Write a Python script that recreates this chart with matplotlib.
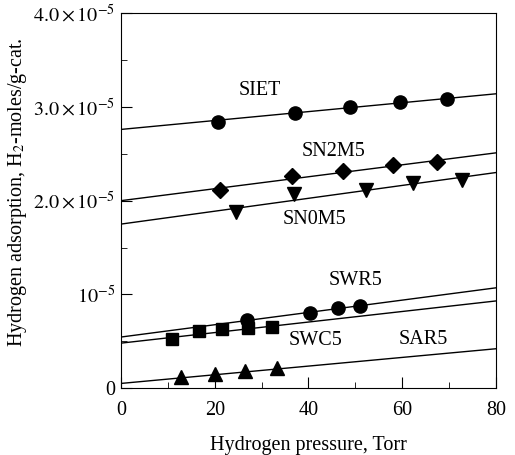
import matplotlib.pyplot as plt
from matplotlib.ticker import MultipleLocator, FixedLocator

plt.rcParams['font.family'] = ['Liberation Serif', 'DejaVu Serif']
plt.rcParams['mathtext.fontset'] = 'stix'

# data (x in Torr, y in 1e-5 H2-moles/g-cat)
siet_x = [20.7, 37.1, 48.9, 59.5, 69.5]
siet_y = [2.84, 2.94, 3.00, 3.05, 3.08]
sn2m5_x = [21.1, 36.5, 47.3, 58.0, 67.4]
sn2m5_y = [2.11, 2.26, 2.32, 2.38, 2.41]
sn0m5_x = [24.5, 37.0, 52.3, 62.3, 72.7]
sn0m5_y = [1.88, 2.07, 2.11, 2.19, 2.22]
swr5_x = [26.8, 40.3, 46.3, 51.0]
swr5_y = [0.73, 0.80, 0.85, 0.88]
swc5_x = [10.8, 16.6, 21.6, 27.2, 32.2]
swc5_y = [0.52, 0.61, 0.63, 0.64, 0.65]
sar5_x = [12.8, 20.1, 26.5, 33.2]
sar5_y = [0.12, 0.15, 0.18, 0.21]

# straight lines: value at 0 Torr and at 80 Torr
line_x = [0, 80]
siet_line = [2.76, 3.14]
sn2m5_line = [2.00, 2.51]
sn0m5_line = [1.75, 2.30]
swr5_line = [0.545, 1.07]
swc5_line = [0.48, 0.93]
sar5_line = [0.05, 0.42]

labels = ['SIET', 'SN2M5', 'SN0M5', 'SWR5', 'SWC5', 'SAR5']
label_pos = [(29.7, 3.17), (45.4, 2.52), (41.2, 1.80), (50.1, 1.15), (41.4, 0.51), (64.4, 0.52)]

fig = plt.figure(figsize=(5.15, 4.55), dpi=100)
ax = fig.add_axes([0.235, 0.147, 0.728, 0.824])

series = [
    (siet_x, siet_y, siet_line, 'o', 9.5),
    (sn2m5_x, sn2m5_y, sn2m5_line, 'D', 8.5),
    (sn0m5_x, sn0m5_y, sn0m5_line, 'v', 9.5),
    (swr5_x, swr5_y, swr5_line, 'o', 9.5),
    (swc5_x, swc5_y, swc5_line, 's', 8.5),
    (sar5_x, sar5_y, sar5_line, '^', 9.5),
]
for xs, ys, ln, mk, ms in series:
    ax.plot(line_x, [v * 1e-5 for v in ln], color='black', lw=1.0)
    ax.plot(xs, [v * 1e-5 for v in ys], mk, color='black', ms=ms, ls='none')

for lab, (lx, ly) in zip(labels, label_pos):
    ax.text(lx, ly * 1e-5, lab, fontsize=14.5, ha='center', va='center')

ax.set_xlim(0, 80)
ax.set_ylim(0, 4e-5)
ax.xaxis.set_major_locator(MultipleLocator(20))
ax.xaxis.set_minor_locator(MultipleLocator(10))
ax.yaxis.set_major_locator(FixedLocator([0, 1e-5, 2e-5, 3e-5, 4e-5]))
ax.yaxis.set_minor_locator(MultipleLocator(0.5e-5))
ax.set_yticklabels(['0', r'$10^{-5}$', r'$2.0\times10^{-5}$', r'$3.0\times10^{-5}$', r'$4.0\times10^{-5}$'])
ax.tick_params(which='both', direction='in', labelsize=14.5, top=False, right=False)
ax.tick_params(which='major', length=8)
ax.tick_params(which='minor', length=4)
ax.tick_params(axis='x', pad=9)
ax.tick_params(axis='y', pad=4)

ax.set_xlabel('Hydrogen pressure, Torr', fontsize=14.5, labelpad=12)
ax.set_ylabel(r'Hydrogen adsorption, H$_2$-moles/g-cat.', fontsize=14.5)
ax.yaxis.set_label_coords(-0.245, 0.523)

fig.savefig('out.png', dpi=100)
